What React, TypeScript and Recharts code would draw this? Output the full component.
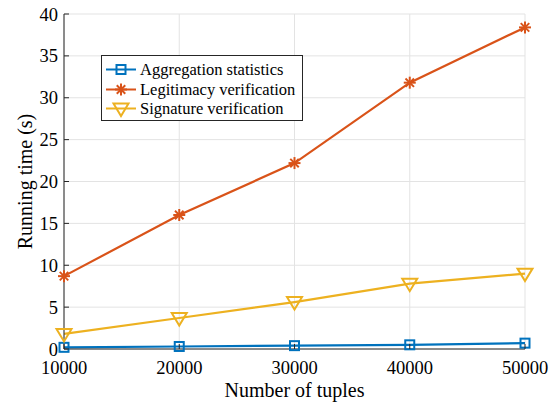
import React from "react";
import { LineChart, Line, XAxis, YAxis, CartesianGrid } from "recharts";

const tuples = [10000, 20000, 30000, 40000, 50000];
const aggregation = [0.2, 0.3, 0.4, 0.5, 0.7];
const legitimacy = [8.7, 16.0, 22.2, 31.8, 38.4];
const signature = [1.8, 3.7, 5.6, 7.8, 9.0];
const xTicks = [10000, 20000, 30000, 40000, 50000];
const yTicks = [0, 5, 10, 15, 20, 25, 30, 35, 40];

const BLUE = "#0072BD";
const ORANGE = "#D95319";
const YELLOW = "#EDB120";
const FONT = "'Liberation Serif', 'Times New Roman', serif";

const data = tuples.map((t, i) => ({
  t,
  agg: aggregation[i],
  leg: legitimacy[i],
  sig: signature[i],
}));

const Square = ({ cx, cy, color }: any) => (
  <rect x={cx - 4.5} y={cy - 4.5} width={9} height={9} fill="none" stroke={color} strokeWidth={2} />
);
const Star = ({ cx, cy, color }: any) => {
  const r = 6;
  const d = r * 0.7071;
  return (
    <g stroke={color} strokeWidth={2}>
      <line x1={cx - r} y1={cy} x2={cx + r} y2={cy} />
      <line x1={cx} y1={cy - r} x2={cx} y2={cy + r} />
      <line x1={cx - d} y1={cy - d} x2={cx + d} y2={cy + d} />
      <line x1={cx - d} y1={cy + d} x2={cx + d} y2={cy - d} />
    </g>
  );
};
const Tri = ({ cx, cy, color }: any) => (
  <polygon
    points={`${cx - 7.5},${cy - 5} ${cx + 7.5},${cy - 5} ${cx},${cy + 7.5}`}
    fill="none"
    stroke={color}
    strokeWidth={2}
  />
);

const BottomTick = ({ x, y, payload }: any) => (
  <g>
    <line x1={x} x2={x} y1={y} y2={y - 5} stroke="#262626" strokeWidth={1} />
    <text x={x} y={y + 25} textAnchor="middle" fontFamily={FONT} fontSize={18.5} fill="#000">
      {payload.value}
    </text>
  </g>
);
const LeftTick = ({ x, y, payload }: any) => (
  <g>
    <line x1={x} x2={x + 5} y1={y} y2={y} stroke="#262626" strokeWidth={1} />
    <text x={x - 6} y={y + 6.5} textAnchor="end" fontFamily={FONT} fontSize={18.5} fill="#000">
      {payload.value}
    </text>
  </g>
);
const TopTick = ({ x, y }: any) => (
  <line x1={x} x2={x} y1={y} y2={y + 5} stroke="#262626" strokeWidth={1} />
);
const RightTick = ({ x, y }: any) => (
  <line x1={x} x2={x - 5} y1={y} y2={y} stroke="#262626" strokeWidth={1} />
);

const legendItems = [
  { label: "Aggregation statistics", color: BLUE, Marker: Square },
  { label: "Legitimacy verification", color: ORANGE, Marker: Star },
  { label: "Signature verification", color: YELLOW, Marker: Tri },
];

const LegendBox = () => (
  <div
    style={{
      position: "absolute",
      left: 101,
      top: 55,
      width: 202,
      height: 66,
      border: "1px solid #262626",
      background: "#fff",
      boxSizing: "border-box",
      paddingTop: 4,
    }}
  >
    {legendItems.map((it) => (
      <div key={it.label} style={{ display: "flex", alignItems: "center", height: 19.5 }}>
        <svg width={38} height={19} style={{ flex: "none", display: "block" }}>
          <line x1={4} x2={34} y1={9.5} y2={9.5} stroke={it.color} strokeWidth={2} />
          <it.Marker cx={19} cy={9.5} color={it.color} />
        </svg>
        <span style={{ fontFamily: FONT, fontSize: 16.5, color: "#000", whiteSpace: "nowrap", lineHeight: "19px" }}>
          {it.label}
        </span>
      </div>
    ))}
  </div>
);

export default function App() {
  return (
    <div style={{ position: "absolute", left: 0, top: 0, width: 552, height: 406, background: "#fff" }}>
      <LineChart
        width={552}
        height={406}
        data={data}
        margin={{ top: 14, right: 27, bottom: 0, left: 0 }}
      >
        <CartesianGrid stroke="#e3e3e3" strokeWidth={1} />
        <XAxis
          dataKey="t"
          type="number"
          domain={[10000, 50000]}
          ticks={xTicks}
          tickLine={false}
          tickSize={0}
          tickMargin={0}
          height={57}
          axisLine={{ stroke: "#262626", strokeWidth: 1 }}
          tick={<BottomTick />}
          interval={0}
          label={{
            value: "Number of tuples",
            position: "insideBottom",
            offset: 9,
            style: { fontFamily: FONT, fontSize: 20, fill: "#000" },
          }}
        />
        <XAxis
          xAxisId="top"
          orientation="top"
          dataKey="t"
          type="number"
          domain={[10000, 50000]}
          ticks={xTicks}
          tickLine={false}
          tickSize={0}
          tickMargin={0}
          height={0}
          axisLine={{ stroke: "#262626", strokeWidth: 1 }}
          tick={<TopTick />}
          interval={0}
        />
        <YAxis
          type="number"
          domain={[0, 40]}
          ticks={yTicks}
          tickLine={false}
          tickSize={0}
          tickMargin={0}
          width={64}
          axisLine={{ stroke: "#262626", strokeWidth: 1 }}
          tick={<LeftTick />}
          interval={0}
          label={{
            value: "Running time (s)",
            angle: -90,
            position: "insideLeft",
            offset: 25,
            style: { fontFamily: FONT, fontSize: 20, fill: "#000", textAnchor: "middle" },
          }}
        />
        <YAxis
          yAxisId="right"
          orientation="right"
          type="number"
          domain={[0, 40]}
          ticks={yTicks}
          tickLine={false}
          tickSize={0}
          tickMargin={0}
          width={0}
          axisLine={{ stroke: "#262626", strokeWidth: 1 }}
          tick={<RightTick />}
          interval={0}
        />
        <Line
          dataKey="agg"
          stroke={BLUE}
          strokeWidth={2.2}
          isAnimationActive={false}
          dot={(p: any) => <Square key={p.index} cx={p.cx} cy={p.cy} color={BLUE} />}
          activeDot={false}
        />
        <Line
          dataKey="leg"
          stroke={ORANGE}
          strokeWidth={2.2}
          isAnimationActive={false}
          dot={(p: any) => <Star key={p.index} cx={p.cx} cy={p.cy} color={ORANGE} />}
          activeDot={false}
        />
        <Line
          dataKey="sig"
          stroke={YELLOW}
          strokeWidth={2.2}
          isAnimationActive={false}
          dot={(p: any) => <Tri key={p.index} cx={p.cx} cy={p.cy} color={YELLOW} />}
          activeDot={false}
        />
      </LineChart>
      <LegendBox />
    </div>
  );
}
